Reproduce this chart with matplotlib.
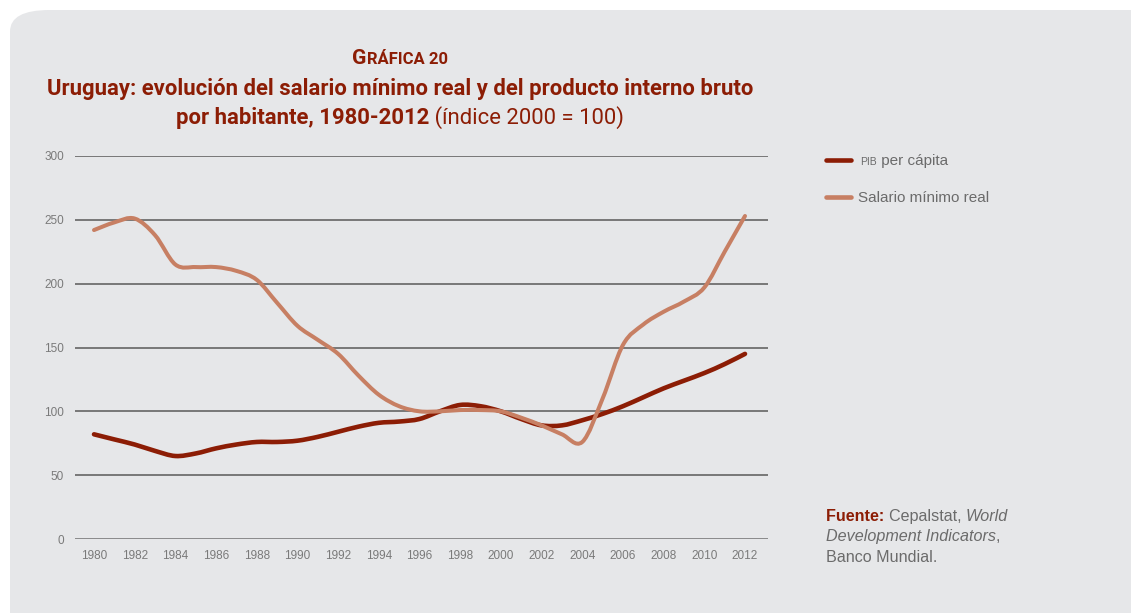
import matplotlib
matplotlib.use('Agg')
import matplotlib.pyplot as plt
import numpy as np
from matplotlib.patches import FancyBboxPatch, PathPatch
from matplotlib.path import Path
from matplotlib.lines import Line2D

# Données (indice 2000 = 100)
annees = list(range(1980, 2013))
pib_per_capita = [82, 78, 74, 69, 65, 67, 71, 74, 76, 76, 77, 80, 84, 88, 91, 92, 94,
                  100, 105, 104, 100, 94, 89, 89, 93, 98, 104, 111, 118, 124, 130, 137, 145]
salario_minimo = [242, 248, 251, 238, 215, 213, 213, 210, 203, 185, 167, 156, 145, 128, 113, 104, 100,
                  100, 101, 101, 100, 95, 89, 82, 76, 110, 152, 168, 178, 186, 197, 225, 253]
ticks_x = list(range(1980, 2013, 2))
ticks_y = [0, 50, 100, 150, 200, 250, 300]

rouge = '#8c1d05'
saumon = '#c77f63'
gris_texte = '#6b6b6b'
fond = '#e6e7e9'
titre_font = ['Roboto', 'DejaVu Sans']
texte_font = ['Liberation Sans', 'DejaVu Sans']

W, H = 1131, 613
fig = plt.figure(figsize=(W / 100, H / 100), dpi=100)
fig.patch.set_facecolor('white')

# Cadre gris arrondi en arrière-plan (zorder négatif pour rester sous les axes)
cadre = FancyBboxPatch((10 / W, -0.1), 1.2, 1 - 10 / H + 0.1,
                       boxstyle='round,pad=0,rounding_size=0.035',
                       transform=fig.transFigure, facecolor=fond, edgecolor='none', zorder=-5)
fig.patches.append(cadre)

ax = fig.add_axes([75 / W, 1 - 539 / H, (768 - 75) / W, (539 - 156) / H])
ax.set_facecolor('none')
for s in ax.spines.values():
    s.set_visible(False)

for v in ticks_y:
    ax.axhline(v, color='#6f6f6f', linewidth=1.8 if v == 0 else 1.3, zorder=1)


def courbe_lissee(x, y, couleur, epaisseur, z):
    '''Trace une courbe lissée (style Excel) avec des segments de Bézier passant par les points.'''
    pts = np.column_stack([x, y]).astype(float)
    ext = np.vstack([pts[0], pts, pts[-1]])
    sommets = [pts[0]]
    codes = [Path.MOVETO]
    for i in range(1, len(ext) - 2):
        p0, p1, p2, p3 = ext[i - 1], ext[i], ext[i + 1], ext[i + 2]
        sommets += [p1 + (p2 - p0) / 6, p2 - (p3 - p1) / 6, p2]
        codes += [Path.CURVE4] * 3
    ax.add_patch(PathPatch(Path(sommets, codes), facecolor='none', edgecolor=couleur,
                           linewidth=epaisseur, capstyle='round', joinstyle='round', zorder=z))


courbe_lissee(annees, pib_per_capita, rouge, 3.3, 3)
courbe_lissee(annees, salario_minimo, saumon, 2.9, 4)

ax.set_xlim(1980 - 19 / 20.34, 2012 + 23 / 20.34)
ax.set_ylim(0, 300)
ax.set_xticks(ticks_x)
ax.set_yticks(ticks_y)
ax.tick_params(length=0, labelsize=8.5, labelcolor='#7a7a7a', pad=8)
for lab in ax.get_xticklabels() + ax.get_yticklabels():
    lab.set_family(texte_font)


def ligne_de_textes(morceaux, x, y, centre=False):
    '''Place plusieurs morceaux de texte (styles différents) sur une même ligne.'''
    objets = [fig.text(x, y, m[0], ha='left', va='baseline', **m[1]) for m in morceaux]
    fig.canvas.draw()
    r = fig.canvas.get_renderer()
    largeurs = [o.get_window_extent(r).width / W for o in objets]
    depart = x - sum(largeurs) / 2 if centre else x
    for o, l in zip(objets, largeurs):
        o.set_x(depart)
        depart += l
    return objets


# Titre : on ajuste la taille pour que la ligne longue fasse ~709 px comme l'original
xc = 400 / W
essai = fig.text(0, 0, 'Uruguay: evolución del salario mínimo real y del producto interno bruto',
                 family=titre_font, weight='bold', fontsize=16)
fig.canvas.draw()
taille = 16 * 709 / essai.get_window_extent(fig.canvas.get_renderer()).width
essai.remove()

ligne_de_textes([('G', dict(color=rouge, family=titre_font, weight='bold', fontsize=taille * 0.95)),
                 ('RÁFICA 20', dict(color=rouge, family=titre_font, weight='bold', fontsize=taille * 0.75))],
                xc, 1 - 64 / H, centre=True)
ligne_de_textes([('Uruguay: evolución del salario mínimo real y del producto interno bruto',
                  dict(color=rouge, family=titre_font, weight='bold', fontsize=taille))],
                xc, 1 - 95 / H, centre=True)
ligne_de_textes([('por habitante, 1980-2012', dict(color=rouge, family=titre_font, weight='bold', fontsize=taille)),
                 (' (índice 2000 = 100)', dict(color=rouge, family=titre_font, fontsize=taille))],
                xc, 1 - 124 / H, centre=True)

# Légende manuelle
for yy, col in [(160, rouge), (197, saumon)]:
    fig.add_artist(Line2D([826 / W, 851 / W], [1 - yy / H, 1 - yy / H], transform=fig.transFigure,
                          color=col, linewidth=3.3, solid_capstyle='round'))
ligne_de_textes([('PIB', dict(color=gris_texte, family=texte_font, fontsize=7.5)),
                 (' per cápita', dict(color=gris_texte, family=texte_font, fontsize=11))],
                860 / W, 1 - 165 / H)
ligne_de_textes([('Salario mínimo real', dict(color=gris_texte, family=texte_font, fontsize=11))],
                858 / W, 1 - 202 / H)

# Source
ligne_de_textes([('Fuente: ', dict(color=rouge, family=texte_font, weight='bold', fontsize=11.6)),
                 ('Cepalstat, ', dict(color=gris_texte, family=texte_font, fontsize=11.6)),
                 ('World', dict(color=gris_texte, family=texte_font, style='italic', fontsize=11.6))],
                826 / W, 1 - 521 / H)
ligne_de_textes([('Development Indicators', dict(color=gris_texte, family=texte_font, style='italic', fontsize=11.6)),
                 (',', dict(color=gris_texte, family=texte_font, fontsize=11.6))],
                826 / W, 1 - 541 / H)
ligne_de_textes([('Banco Mundial.', dict(color=gris_texte, family=texte_font, fontsize=11.6))],
                826 / W, 1 - 562 / H)

fig.savefig('out.png', dpi=100)
